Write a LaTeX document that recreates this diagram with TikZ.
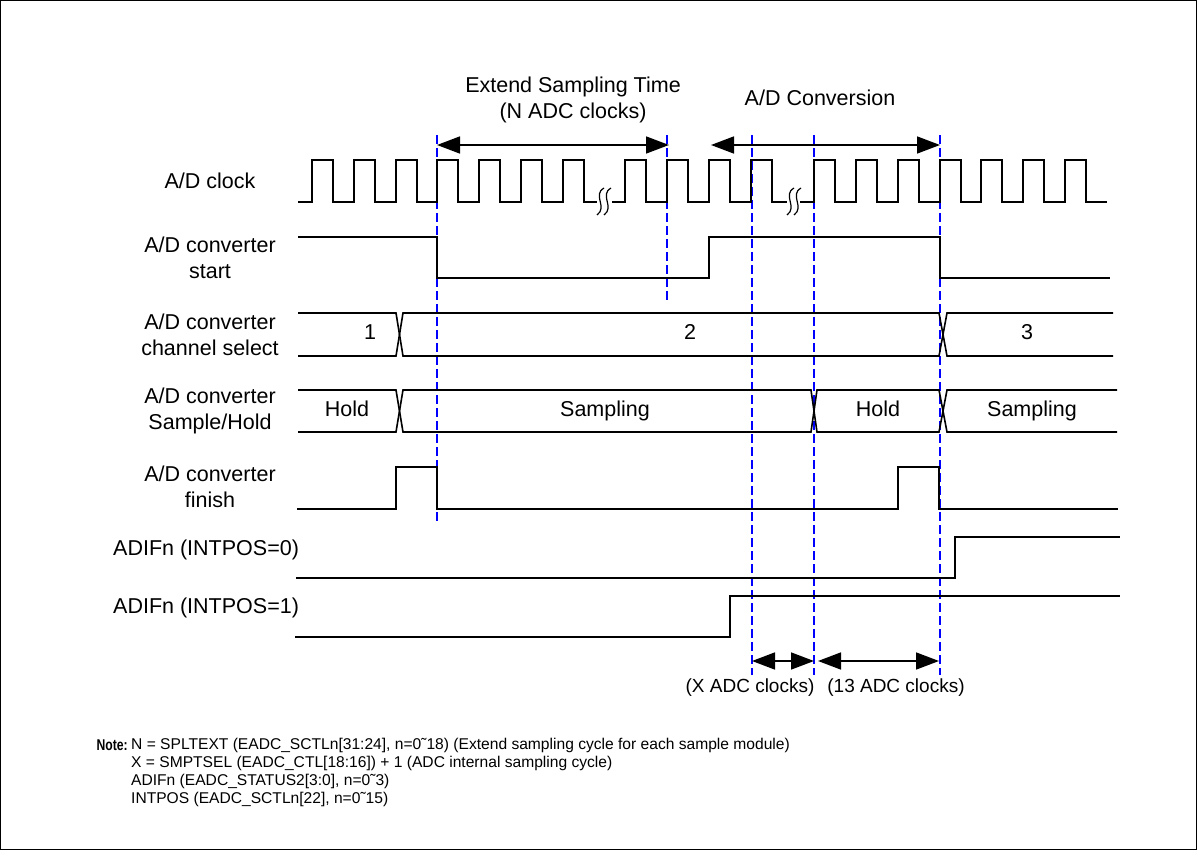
\documentclass[tikz,border=0pt]{standalone}
\usepackage{fontspec}
\setmainfont{Liberation Sans}
\newfontfamily\notebold[FakeStretch=0.78]{Liberation Sans}
\usetikzlibrary{arrows.meta}
\begin{document}
\begin{tikzpicture}[x=1pt,y=-1pt,
  sig/.style={line width=1.6pt, line join=miter},
  guide/.style={blue, line width=1.1pt, dash pattern=on 9pt off 4pt},
  span/.style={line width=1.6pt, {Triangle[length=23pt,width=17pt]}-{Triangle[length=23pt,width=17pt]}},
  lbl/.style={font=\fontsize{21.5}{26}\selectfont, align=center, inner sep=0pt},
  busl/.style={font=\fontsize{21.5}{26}\selectfont, inner sep=0pt, text height=15pt, text depth=4pt},
  notetxt/.style={font=\fontsize{15.6}{18}\selectfont, anchor=west, inner sep=0pt},
  brk/.style={line width=1.2pt}]
\useasboundingbox (0,0) rectangle (1197,850);
\draw[line width=1pt] (0.5,0.5) rectangle (1196.5,849.5);

% labels
\node[lbl] (lclk) at (210,181) {A/D clock};
\node[lbl] (lstart) at (210,258) {A/D converter\\start};
\node[lbl] (lch) at (210,335) {A/D converter\\channel select};
\node[lbl] (lsh) at (210,411) {A/D converter\\Sample/Hold};
\node[lbl] (lfin) at (210,487) {A/D converter\\finish};
\node[lbl, anchor=west] (lif0) at (113,550) {ADIFn (INTPOS=0)};
\node[lbl, anchor=west] (lif1) at (113,608) {ADIFn (INTPOS=1)};

\node[lbl] (lext) at (573,100) {Extend Sampling Time\\(N ADC clocks)};
\node[lbl] (lconv) at (820,98) {A/D Conversion};
\node[lbl, font=\fontsize{19}{24}\selectfont] (lx) at (750,688) {(X ADC clocks)};
\node[lbl, font=\fontsize{19}{24}\selectfont] (l13) at (896,688) {(13 ADC clocks)};

% guide lines
\foreach \gx/\gb in {437/523, 667/303, 752/675, 814/675, 940/675}
  \draw[guide] (\gx,135) -- (\gx,\gb);

% clock
\draw[sig] (298,202) \foreach \r in {312,354,396,437,479,521,563}
  {-- (\r,202) -- (\r,160) -- (\r+21,160) -- (\r+21,202)} -- (597,202);
\draw[sig] (612,202) \foreach \r in {625,667,709,751}
  {-- (\r,202) -- (\r,160) -- (\r+21,160) -- (\r+21,202)} -- (787,202);
\draw[sig] (800,202) \foreach \r in {814,856,898,940,981,1023,1065}
  {-- (\r,202) -- (\r,160) -- (\r+21,160) -- (\r+21,202)} -- (1107,202);
% break marks
\foreach \bx in {600,607,790,797}
  \draw[brk] (\bx+4,188) .. controls (\bx-8,195) and (\bx+8,207) .. (\bx-3,215);

% start
\draw[sig] (298,237) -- (437,237) -- (437,278) -- (709,278) -- (709,237) -- (940,237) -- (940,278) -- (1110,278);

% channel select bus
\draw[sig] (298,313) -- (396,313) -- (403,356) -- (939,356) -- (947,313) -- (1113,313);
\draw[sig] (298,356) -- (396,356) -- (403,313) -- (939,313) -- (947,356) -- (1113,356);
\node[busl] (c1) at (370,334) {1};
\node[busl] (c2) at (690,334) {2};
\node[busl] (c3) at (1027,334) {3};

% sample/hold bus
\draw[sig] (298,390) -- (396,390) -- (403,432) -- (811,432) -- (817,390) -- (939,390) -- (947,432) -- (1117,432);
\draw[sig] (298,432) -- (396,432) -- (403,390) -- (811,390) -- (817,432) -- (939,432) -- (947,390) -- (1117,390);
\node[busl] (s1) at (347,411) {Hold};
\node[busl] (s2) at (605,411) {Sampling};
\node[busl] (s3) at (878,411) {Hold};
\node[busl] (s4) at (1032,411) {Sampling};

% finish
\draw[sig] (297,509) -- (396,509) -- (396,467) -- (437,467) -- (437,509) -- (898,509) -- (898,467) -- (939,467) -- (939,509) -- (1118,509);

% ADIFn
\draw[sig] (296,578) -- (955,578) -- (955,537) -- (1120,537);
\draw[sig] (295,637) -- (730,637) -- (730,596) -- (1120,596);

% span arrows
\coordinate (a1) at (437,145); \coordinate (a2) at (669,145);
\coordinate (a3) at (711,145); \coordinate (a4) at (940,145);
\coordinate (b1) at (752,661); \coordinate (b2) at (814,661);
\coordinate (b3) at (818,661); \coordinate (b4) at (939,661);
\draw[span] (a1) -- (a2);
\draw[span] (a3) -- (a4);
\draw[span] (b1) -- (b2);
\draw[span] (b3) -- (b4);

% note
\node[notetxt, anchor=east, font=\fontsize{15.6}{18}\notebold\bfseries] (nt) at (128,745) {Note:};
\node[notetxt] (n1) at (131,745) {N = SPLTEXT (EADC\_SCTLn[31:24], n=0\symbol{"02DC}18) (Extend sampling cycle for each sample module)};
\node[notetxt] (n2) at (131,763) {X = SMPTSEL (EADC\_CTL[18:16]) + 1 (ADC internal sampling cycle)};
\node[notetxt] (n3) at (131,781) {ADIFn (EADC\_STATUS2[3:0], n=0\symbol{"02DC}3)};
\node[notetxt] (n4) at (131,799) {INTPOS (EADC\_SCTLn[22], n=0\symbol{"02DC}15)};
\end{tikzpicture}
\end{document}
